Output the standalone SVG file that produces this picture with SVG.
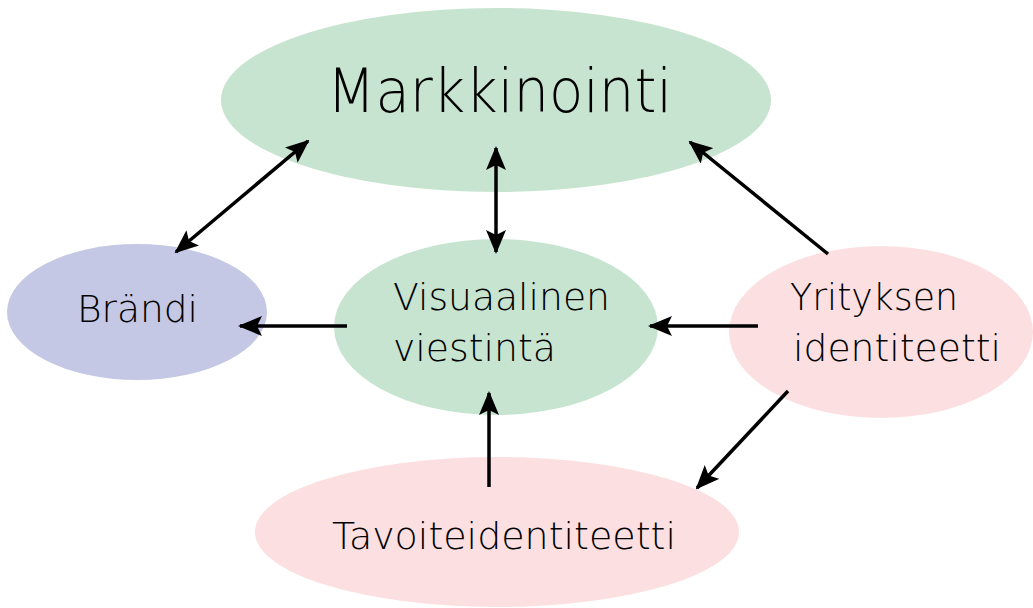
<svg xmlns="http://www.w3.org/2000/svg" width="1033" height="608" viewBox="0 0 1033 608">
  <defs>
    <marker id="arrow" markerUnits="userSpaceOnUse" markerWidth="24" markerHeight="20" refX="22" refY="10" orient="auto-start-reverse">
      <path d="M0,0 L24,10 L0,20 L5,10 Z" fill="#000"/>
    </marker>
    <style>
      .label { font-family: "DejaVu Sans", "Liberation Sans", sans-serif; font-weight: 200; fill: #000; }
      .green { fill: #c7e4d0; }
      .blue { fill: #c4c8e4; }
      .pink { fill: #fcdfe0; }
      .link { stroke: #000; stroke-width: 3.5; fill: none; marker-end: url(#arrow); }
      .both { marker-start: url(#arrow); }
    </style>
  </defs>

  <rect width="1033" height="608" fill="#fff"/>

  <g id="markkinointi">
    <ellipse class="green" cx="496" cy="100" rx="275" ry="92"/>
    <text class="label" x="327" y="112" font-size="60" textLength="345" lengthAdjust="spacingAndGlyphs">Markkinointi</text>
  </g>

  <g id="brandi">
    <ellipse class="blue" cx="137" cy="312" rx="130" ry="68"/>
    <text class="label" x="77" y="322" font-size="38" textLength="121" lengthAdjust="spacingAndGlyphs">Brändi</text>
  </g>

  <g id="visuaalinen-viestinta">
    <ellipse class="green" cx="496" cy="327" rx="162" ry="88"/>
    <text class="label" x="393" y="310" font-size="38" textLength="217" lengthAdjust="spacingAndGlyphs">Visuaalinen</text>
    <text class="label" x="393" y="361" font-size="38" textLength="163" lengthAdjust="spacingAndGlyphs">viestintä</text>
  </g>

  <g id="yrityksen-identiteetti">
    <ellipse class="pink" cx="881" cy="332" rx="152" ry="86"/>
    <text class="label" x="790" y="310" font-size="38" textLength="168" lengthAdjust="spacingAndGlyphs">Yrityksen</text>
    <text class="label" x="793" y="361" font-size="38" textLength="208" lengthAdjust="spacingAndGlyphs">identiteetti</text>
  </g>

  <g id="tavoiteidentiteetti">
    <ellipse class="pink" cx="497" cy="532" rx="242" ry="75"/>
    <text class="label" x="332" y="549" font-size="38" textLength="344" lengthAdjust="spacingAndGlyphs">Tavoiteidentiteetti</text>
  </g>

  <g id="connectors">
    <line class="link both" x1="308" y1="141" x2="176" y2="252"/>
    <line class="link both" x1="496" y1="148" x2="496" y2="252"/>
    <line class="link" x1="828" y1="254" x2="690" y2="142"/>
    <line class="link" x1="347" y1="326" x2="240" y2="326"/>
    <line class="link" x1="758" y1="326" x2="650" y2="326"/>
    <line class="link" x1="788" y1="391" x2="697" y2="488"/>
    <line class="link" x1="489" y1="487" x2="489" y2="393"/>
  </g>
</svg>
